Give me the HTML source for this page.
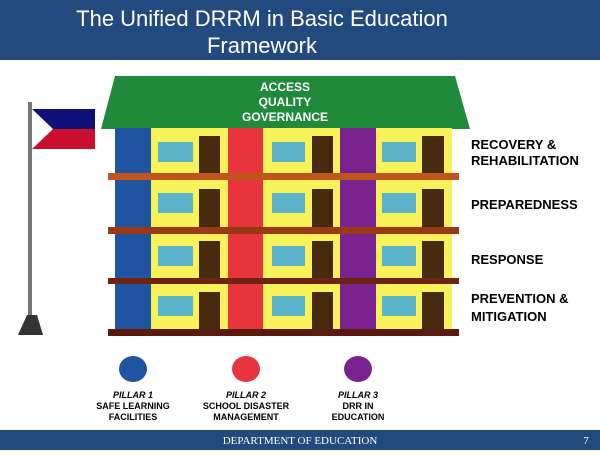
<!DOCTYPE html>
<html><head><meta charset="utf-8"><style>
body{margin:0;width:600px;height:450px;overflow:hidden;background:#fff}
</style></head><body>
<svg width="600" height="450" xmlns="http://www.w3.org/2000/svg" font-family="Liberation Sans, sans-serif">
<rect x="0" y="0" width="600" height="60" fill="#224a7e"/>
<text x="262" y="26" text-anchor="middle" fill="#fff" font-size="22">The Unified DRRM in Basic Education</text>
<text x="262" y="53" text-anchor="middle" fill="#fff" font-size="22">Framework</text>
<rect x="0" y="430" width="600" height="20" fill="#224a7e"/>
<text x="300" y="444" text-anchor="middle" fill="#fff" font-size="11" font-family="Liberation Serif, serif">DEPARTMENT OF EDUCATION</text>
<text x="586" y="444" text-anchor="middle" fill="#fff" font-size="11" font-family="Liberation Serif, serif">7</text>
<!-- flag -->
<rect x="28" y="102" width="4" height="215" fill="#777"/>
<polygon points="27,315 37,315 43,335 18,335" fill="#333"/>
<rect x="32" y="109" width="63" height="20" fill="#10107a"/>
<rect x="32" y="129" width="63" height="20" fill="#c8102e"/>
<polygon points="32,109 53,129 32,149" fill="#fff"/>
<!-- roof -->
<polygon points="115,76 455,76 470,129 101,129" fill="#1e8a3a"/>
<g fill="#fff" font-weight="bold" font-size="12" text-anchor="middle">
<text x="285" y="91">ACCESS</text><text x="285" y="106">QUALITY</text><text x="285" y="121">GOVERNANCE</text>
</g>
<!-- building -->
<rect x="115" y="128" width="337" height="204" fill="#f7f25a"/>
<rect x="115" y="128" width="36" height="204" fill="#1f55a0"/>
<rect x="228" y="128" width="35" height="204" fill="#e8343c"/>
<rect x="340" y="128" width="36" height="204" fill="#7a2390"/>
<g fill="#5ab3c8">
<rect x="158" y="142" width="35" height="20"/><rect x="272" y="142" width="33" height="20"/><rect x="382" y="142" width="34" height="20"/>
<rect x="158" y="193" width="35" height="20"/><rect x="272" y="193" width="33" height="20"/><rect x="382" y="193" width="34" height="20"/>
<rect x="158" y="246" width="35" height="20"/><rect x="272" y="246" width="33" height="20"/><rect x="382" y="246" width="34" height="20"/>
<rect x="158" y="296" width="35" height="20"/><rect x="272" y="296" width="33" height="20"/><rect x="382" y="296" width="34" height="20"/>
</g>
<g fill="#472a0e">
<rect x="199" y="136" width="21" height="38"/><rect x="312" y="136" width="21" height="38"/><rect x="422" y="136" width="22" height="38"/>
<rect x="199" y="189" width="21" height="39"/><rect x="312" y="189" width="21" height="39"/><rect x="422" y="189" width="22" height="39"/>
<rect x="199" y="241" width="21" height="38"/><rect x="312" y="241" width="21" height="38"/><rect x="422" y="241" width="22" height="38"/>
<rect x="199" y="292" width="21" height="38"/><rect x="312" y="292" width="21" height="38"/><rect x="422" y="292" width="22" height="38"/>
</g>
<rect x="108" y="173" width="351" height="7" fill="#c0561a"/>
<rect x="108" y="227" width="351" height="7" fill="#9a3a14"/>
<rect x="108" y="278" width="351" height="6" fill="#6e2410"/>
<rect x="108" y="329" width="351" height="7" fill="#5a1a0e"/>
<!-- right labels -->
<g font-weight="bold" font-size="13" fill="#000">
<text x="471" y="149">RECOVERY &amp;</text><text x="471" y="165">REHABILITATION</text>
<text x="471" y="209">PREPAREDNESS</text>
<text x="471" y="264">RESPONSE</text>
<text x="471" y="303">PREVENTION &amp;</text><text x="471" y="321">MITIGATION</text>
</g>
<!-- pillars -->
<ellipse cx="133" cy="369" rx="14" ry="13" fill="#1f55a0"/>
<ellipse cx="246" cy="369" rx="14" ry="13" fill="#e8343c"/>
<ellipse cx="358" cy="369" rx="14" ry="13" fill="#7a2390"/>
<g font-weight="bold" font-size="9" text-anchor="middle" fill="#000">
<text x="133" y="398" font-style="italic">PILLAR 1</text><text x="133" y="409">SAFE LEARNING</text><text x="133" y="420">FACILITIES</text>
<text x="246" y="398" font-style="italic">PILLAR 2</text><text x="246" y="409">SCHOOL DISASTER</text><text x="246" y="420">MANAGEMENT</text>
<text x="358" y="398" font-style="italic">PILLAR 3</text><text x="358" y="409">DRR IN</text><text x="358" y="420">EDUCATION</text>
</g>
</svg>
</body></html>
